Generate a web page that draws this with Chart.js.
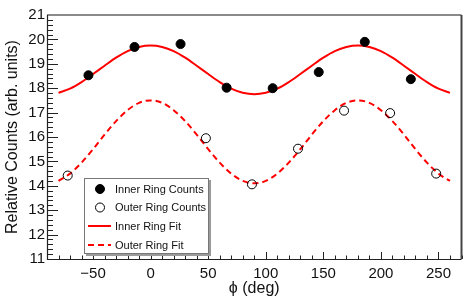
<!DOCTYPE html>
<html>
<head>
<meta charset="utf-8">
<script src="https://cdn.jsdelivr.net/npm/chart.js@4"></script>
<style>
  html, body { margin: 0; padding: 0; background: #fff; }
  #wrap { width: 467px; height: 299px; }
</style>
</head>
<body>
<div id="wrap"><canvas id="c" width="467" height="299"></canvas></div>
<script>
const innerPhi = [-54, -14, 26, 66, 106, 146, 186, 226];
const innerCounts = [18.53, 19.69, 19.81, 18.02, 18.0, 18.66, 19.9, 18.37];
const outerPhi = [-72, 48, 88, 128, 168, 208, 248];
const outerCounts = [14.42, 15.95, 14.06, 15.52, 17.08, 16.98, 14.5];

// fit curves, read every 10 deg
const fitPhi = [-80, -70, -60, -50, -40, -30, -20, -10, 0, 10, 20, 30, 40, 50, 60, 70, 80, 90,
  100, 110, 120, 130, 140, 150, 160, 170, 180, 190, 200, 210, 220, 230, 240, 250, 260];
const innerFit = [17.81, 17.98, 18.25, 18.58, 18.92, 19.25, 19.52, 19.69, 19.75, 19.69, 19.52, 19.25,
  18.92, 18.58, 18.25, 17.98, 17.81, 17.75, 17.81, 17.98, 18.25, 18.58, 18.92, 19.25, 19.52, 19.69,
  19.75, 19.69, 19.52, 19.25, 18.92, 18.58, 18.25, 17.98, 17.81];
const outerFit = [14.2, 14.5, 14.95, 15.5, 16.1, 16.65, 17.1, 17.4, 17.5, 17.4, 17.1, 16.65,
  16.1, 15.5, 14.95, 14.5, 14.2, 14.1, 14.2, 14.5, 14.95, 15.5, 16.1, 16.65, 17.1, 17.4,
  17.5, 17.4, 17.1, 16.65, 16.1, 15.5, 14.95, 14.5, 14.2];

const legendLabels = ['Inner Ring Counts', 'Outer Ring Counts', 'Inner Ring Fit', 'Outer Ring Fit'];
const xTickValues = [-50, 0, 50, 100, 150, 200, 250];
const yTickValues = [11, 12, 13, 14, 15, 16, 17, 18, 19, 20, 21];
const xMin = -90, xMax = 270, xMajor = 50, xMinor = 10;
const yMin = 11, yMax = 21, yMajor = 1, yMinor = 0.2;

const FONT = '"Liberation Sans", Arial, Helvetica, sans-serif';
const toXY = (xs, ys) => xs.map((x, i) => ({ x: x, y: ys[i] }));

// ROOT style ticks pointing into the frame, plus the frame itself
const frameTicks = {
  id: 'frameTicks',
  afterDatasetsDraw(chart) {
    const { ctx, chartArea: a, scales: { x, y } } = chart;
    ctx.save();
    ctx.strokeStyle = '#222';
    ctx.lineWidth = 1;
    ctx.beginPath();
    for (let v = yMin; v <= yMax + 1e-6; v += yMinor) {
      const py = Math.round(y.getPixelForValue(v)) + 0.5;
      const major = Math.abs(v - Math.round(v / yMajor) * yMajor) < 1e-6;
      ctx.moveTo(a.left, py);
      ctx.lineTo(a.left + (major ? 11 : 6), py);
    }
    for (let v = xMin; v <= xMax + 1e-6; v += xMinor) {
      const px = Math.round(x.getPixelForValue(v)) + 0.5;
      const major = Math.abs(v % xMajor) < 1e-6;
      ctx.moveTo(px, a.bottom);
      ctx.lineTo(px, a.bottom - (major ? 7 : 3.5));
    }
    ctx.stroke();
    // frame
    ctx.strokeStyle = '#8a8a8a';
    ctx.lineWidth = 2;
    ctx.beginPath();
    ctx.moveTo(a.left, a.top);
    ctx.lineTo(a.right, a.top);
    ctx.stroke();
    ctx.strokeStyle = '#444';
    ctx.beginPath();
    ctx.moveTo(a.right, a.top);
    ctx.lineTo(a.right, a.bottom);
    ctx.stroke();
    ctx.strokeStyle = '#222';
    ctx.lineWidth = 1.2;
    ctx.beginPath();
    ctx.moveTo(a.left + 0.5, a.top);
    ctx.lineTo(a.left + 0.5, a.bottom + 0.5);
    ctx.lineTo(a.right, a.bottom + 0.5);
    ctx.stroke();
    ctx.restore();
  }
};

// boxed legend inside the frame, lower left
const boxLegend = {
  id: 'boxLegend',
  afterDraw(chart) {
    const ctx = chart.ctx;
    const bx = 84, by = 178, bw = 125, bh = 76;
    ctx.save();
    ctx.fillStyle = '#9a9a9a';
    ctx.fillRect(bx + 2, by + 2, bw, bh);
    ctx.fillStyle = '#fff';
    ctx.fillRect(bx, by, bw, bh);
    ctx.strokeStyle = '#777';
    ctx.lineWidth = 1;
    ctx.strokeRect(bx + 0.5, by + 0.5, bw - 1, bh - 1);
    const rows = [189, 207.5, 226, 245];
    chart.data.datasets.forEach((ds, i) => {
      const ry = rows[i];
      if (ds.showLine) {
        ctx.strokeStyle = ds.borderColor;
        ctx.lineWidth = ds.borderWidth;
        ctx.setLineDash(ds.borderDash || []);
        ctx.beginPath();
        ctx.moveTo(88, ry);
        ctx.lineTo(111, ry);
        ctx.stroke();
        ctx.setLineDash([]);
      } else {
        ctx.beginPath();
        ctx.arc(100, ry, ds.pointRadius, 0, Math.PI * 2);
        ctx.fillStyle = ds.pointBackgroundColor;
        ctx.fill();
        ctx.strokeStyle = ds.pointBorderColor;
        ctx.lineWidth = ds.pointBorderWidth;
        ctx.stroke();
      }
      ctx.fillStyle = '#111';
      ctx.font = '11px ' + FONT;
      ctx.textBaseline = 'middle';
      ctx.textAlign = 'left';
      ctx.fillText(legendLabels[i], 115, ry + 0.5);
    });
    ctx.restore();
  }
};

new Chart(document.getElementById('c'), {
  type: 'scatter',
  data: {
    datasets: [
      { label: legendLabels[0], data: toXY(innerPhi, innerCounts), showLine: false,
        pointRadius: 4.5, pointBackgroundColor: '#000', pointBorderColor: '#000', pointBorderWidth: 1, order: 0 },
      { label: legendLabels[1], data: toXY(outerPhi, outerCounts), showLine: false,
        pointRadius: 4.5, pointBackgroundColor: 'rgba(255,255,255,0)', pointBorderColor: '#000', pointBorderWidth: 1, order: 1 },
      { label: legendLabels[2], data: toXY(fitPhi, innerFit), showLine: true, pointRadius: 0,
        borderColor: '#ff0000', borderWidth: 2, cubicInterpolationMode: 'monotone', order: 2 },
      { label: legendLabels[3], data: toXY(fitPhi, outerFit), showLine: true, pointRadius: 0,
        borderColor: '#ff0000', borderWidth: 2, borderDash: [6, 4], cubicInterpolationMode: 'monotone', order: 3 }
    ]
  },
  options: {
    responsive: false,
    animation: false,
    events: [],
    layout: { padding: { left: 0, top: 15, right: 5, bottom: 0 } },
    plugins: { legend: { display: false }, tooltip: { enabled: false } },
    scales: {
      x: {
        type: 'linear', min: xMin, max: xMax,
        afterFit: s => { s.height = 40; },
        afterBuildTicks: s => { s.ticks = xTickValues.map(v => ({ value: v })); },
        grid: { display: false, drawTicks: false },
        border: { display: false },
        ticks: { padding: 6, color: '#111', font: { family: FONT, size: 15 }, maxRotation: 0, autoSkip: false,
          callback: v => String(v).replace('-', '\u2212') },
        title: { display: true, text: 'ϕ (deg)', color: '#111', font: { family: FONT, size: 16 }, padding: { top: 0, bottom: 1 } }
      },
      y: {
        type: 'linear', min: yMin, max: yMax,
        afterFit: s => { s.width = 47; },
        afterBuildTicks: s => { s.ticks = yTickValues.map(v => ({ value: v })); },
        grid: { display: false, drawTicks: false },
        border: { display: false },
        ticks: { padding: 2, color: '#111', font: { family: FONT, size: 15 }, autoSkip: false },
        title: { display: true, text: 'Relative Counts (arb. units)', color: '#111', font: { family: FONT, size: 16 }, padding: { top: 3, bottom: 0 } }
      }
    }
  },
  plugins: [frameTicks, boxLegend]
});
</script>
</body>
</html>
